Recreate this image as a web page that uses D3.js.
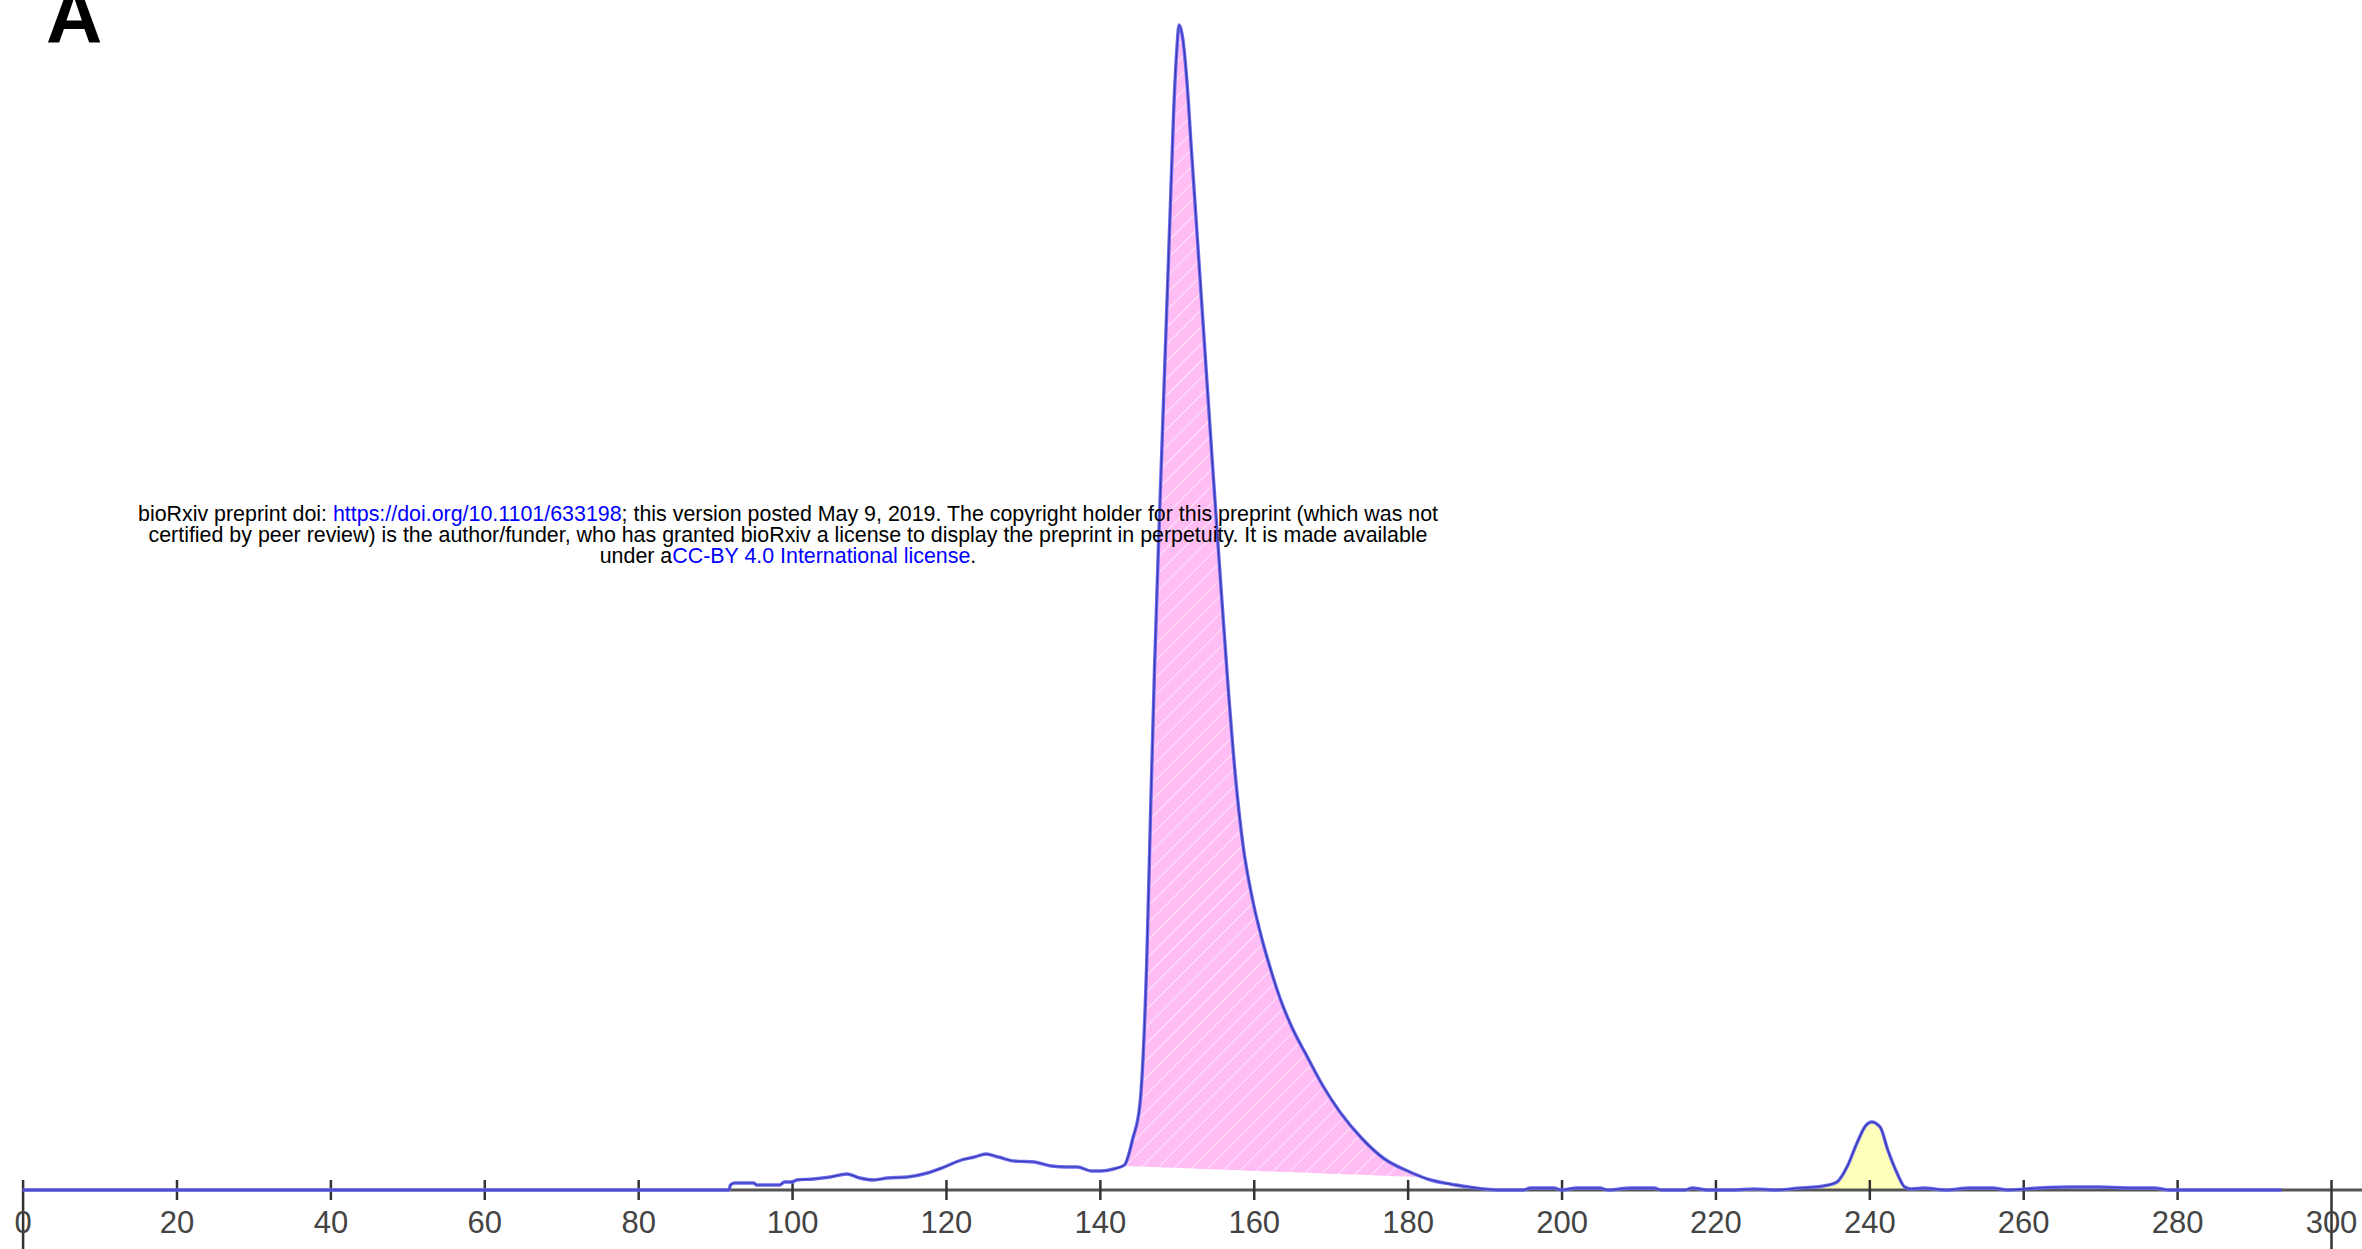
<!DOCTYPE html>
<html>
<head>
<meta charset="utf-8">
<script src="https://cdn.jsdelivr.net/npm/d3@7"></script>
<style>
  html, body { margin: 0; padding: 0; background: #fff; }
  svg { display: block; }
</style>
</head>
<body>
<div id="chart"></div>
<script>
// chromatogram trace: elution position and detector signal
const traceX = [0, 91.8, 92, 92.5, 95, 95.4, 98.4, 99, 100, 100.6, 102.8, 105, 107.1, 108.8, 110.6, 112.4,
  115, 117.6, 119.8, 122, 123.7, 125.2, 126.8, 128.9, 131.5, 133.7, 135.8, 137.1, 138.9, 140.1, 141.8,
  143.2, 144.3, 145.2, 146.1, 146.6, 147.1, 147.6, 148.1, 148.6, 149.1, 149.6, 150.0, 150.3, 150.8,
  151.3, 151.9, 152.6, 153.6, 154.6, 155.6, 156.6, 157.6, 158.6, 159.8, 161.1, 162.3, 163.4, 165.0,
  166.9, 169.0, 171.2, 174.0, 177.0, 180, 183, 185.5, 188, 190, 192, 195, 196, 199, 200, 202, 205, 206, 209,
  212, 213, 216, 217, 219, 222, 225, 228, 231, 233, 234, 235.8, 237.1, 238.4, 239.5, 240.3, 241.4,
  242.4, 243.6, 244.6, 245.5, 247, 250, 253, 256, 258, 262, 266, 270, 274, 277, 279, 285, 290, 293.6];
const traceY = [0, 0, 5, 7, 7, 5, 5, 8, 8, 10, 11, 13, 16, 12, 10, 12,
  13, 17, 23, 30, 33, 36, 33, 29, 28, 24, 23, 23, 19, 19, 21,
  25, 52, 85, 230, 380, 520, 640, 750, 860, 970, 1080, 1140, 1165, 1150,
  1110, 1040, 960, 845, 730, 618, 510, 415, 345, 292, 250, 218, 192, 162,
  134, 104, 78, 52, 31, 19, 10, 6, 3, 1, 0, 0, 2, 2, 0, 2, 2, 0, 2,
  2, 0, 0, 2, 0, 0, 1, 0, 2, 3, 4, 8, 23, 47, 64, 68, 63,
  40, 17, 3, 1, 2, 0, 2, 2, 0, 2, 3, 3, 2, 2, 0, 0, 0, 0];

// integrated peaks: [start, end] and the signal of the drop baseline at each end
const mainPeakRange = [143.3, 181.5];
const mainPeakBase = [24, 13];
const minorPeakRange = [234, 245.5];
const minorPeakBase = [0, 0];

const tickValues = [0, 20, 40, 60, 80, 100, 120, 140, 160, 180, 200, 220, 240, 260, 280, 300];

const noticeLines = [
  [["bioRxiv preprint doi: ", false], ["https://doi.org/10.1101/633198", true],
   ["; this version posted May 9, 2019. The copyright holder for this preprint (which was not", false]],
  [["certified by peer review) is the author/funder, who has granted bioRxiv a license to display the preprint in perpetuity. It is made available", false]],
  [["under a", false], ["CC-BY 4.0 International license", true], [".", false]]
];

const W = 2362, H = 1249;
const svg = d3.select("#chart").append("svg").attr("width", W).attr("height", H);

const x = d3.scaleLinear().domain([0, 300]).range([22.6, 2331]);
const y = d3.scaleLinear().domain([0, 1170]).range([1190, 20]);

const trace = traceX.map((t, i) => ({ t: t, v: traceY[i] }));

function interp(t) {
  const i = d3.bisector(d => d.t).left(trace, t);
  if (i <= 0) return trace[0].v;
  if (i >= trace.length) return trace[trace.length - 1].v;
  const a = trace[i - 1], b = trace[i];
  return a.v + (b.v - a.v) * (t - a.t) / (b.t - a.t);
}

function peakPoints(range) {
  const pts = [{ t: range[0], v: interp(range[0]) }];
  trace.forEach(d => { if (d.t > range[0] && d.t < range[1]) pts.push(d); });
  pts.push({ t: range[1], v: interp(range[1]) });
  return pts;
}

// hatch pattern for the main peak
const defs = svg.append("defs");
const pat = defs.append("pattern")
  .attr("id", "hatch")
  .attr("patternUnits", "userSpaceOnUse")
  .attr("width", 12).attr("height", 12)
  .attr("patternTransform", "rotate(45)");
pat.append("rect").attr("width", 12).attr("height", 12).attr("fill", "#ffbdf4");
pat.append("line").attr("x1", 0).attr("y1", 0).attr("x2", 0).attr("y2", 12)
  .attr("stroke", "#fff").attr("stroke-width", 1.8).attr("stroke-opacity", 0.7);

function drawPeak(range, base, fill) {
  const baseAt = d3.scaleLinear().domain(range).range(base);
  const area = d3.area()
    .x(d => x(d.t))
    .y0(d => y(baseAt(d.t)))
    .y1(d => y(Math.max(d.v, baseAt(d.t))))
    .curve(d3.curveMonotoneX);
  svg.append("path").datum(peakPoints(range)).attr("d", area).attr("fill", fill);
}

drawPeak(mainPeakRange, mainPeakBase, "url(#hatch)");
drawPeak(minorPeakRange, minorPeakBase, "#ffffbc");

// axis
const axisG = svg.append("g")
  .attr("transform", `translate(0,${y(0)})`)
  .call(d3.axisBottom(x).tickValues(tickValues).tickSize(10).tickPadding(0));
axisG.select(".domain").remove();
axisG.insert("line", ":first-child")
  .attr("x1", x(0)).attr("x2", W)
  .attr("stroke", "#555").attr("stroke-width", 3);
axisG.selectAll(".tick line")
  .attr("y1", -10)
  .attr("y2", d => (d === 0 || d === 300) ? H - y(0) : 10)
  .attr("stroke", "#333").attr("stroke-width", 2.5);
axisG.selectAll(".tick text")
  .attr("y", 43)
  .attr("dy", 0)
  .attr("fill", "#444")
  .style("font-family", "'Liberation Sans Narrow', 'Liberation Sans', Arial, sans-serif")
  .style("font-size", "31px");

// trace line
const line = d3.line().x(d => x(d.t)).y(d => y(d.v)).curve(d3.curveMonotoneX);
svg.append("path").datum(trace).attr("d", line)
  .attr("fill", "none").attr("stroke", "#6a6af0").attr("stroke-width", 3.4)
  .attr("stroke-linejoin", "round");
svg.append("path").datum(trace).attr("d", line)
  .attr("fill", "none").attr("stroke", "#2b2b9e").attr("stroke-width", 1.2)
  .attr("stroke-opacity", 0.8).attr("stroke-linejoin", "round");

// preprint notice
const notice = svg.append("text")
  .attr("text-anchor", "middle")
  .style("font-family", "'Liberation Sans', Arial, sans-serif")
  .style("font-size", "21.4px");
noticeLines.forEach((parts, i) => {
  const row = notice.append("tspan").attr("x", 788).attr("y", 521 + i * 21);
  parts.forEach(p => {
    row.append("tspan").text(p[0]).attr("fill", p[1] ? "#0000ff" : "#000");
  });
});

// panel letter
svg.append("text")
  .attr("x", 46).attr("y", 43)
  .style("font-family", "'Liberation Sans', Arial, sans-serif")
  .style("font-weight", "bold")
  .style("font-size", "78px")
  .text("A");
</script>
</body>
</html>
